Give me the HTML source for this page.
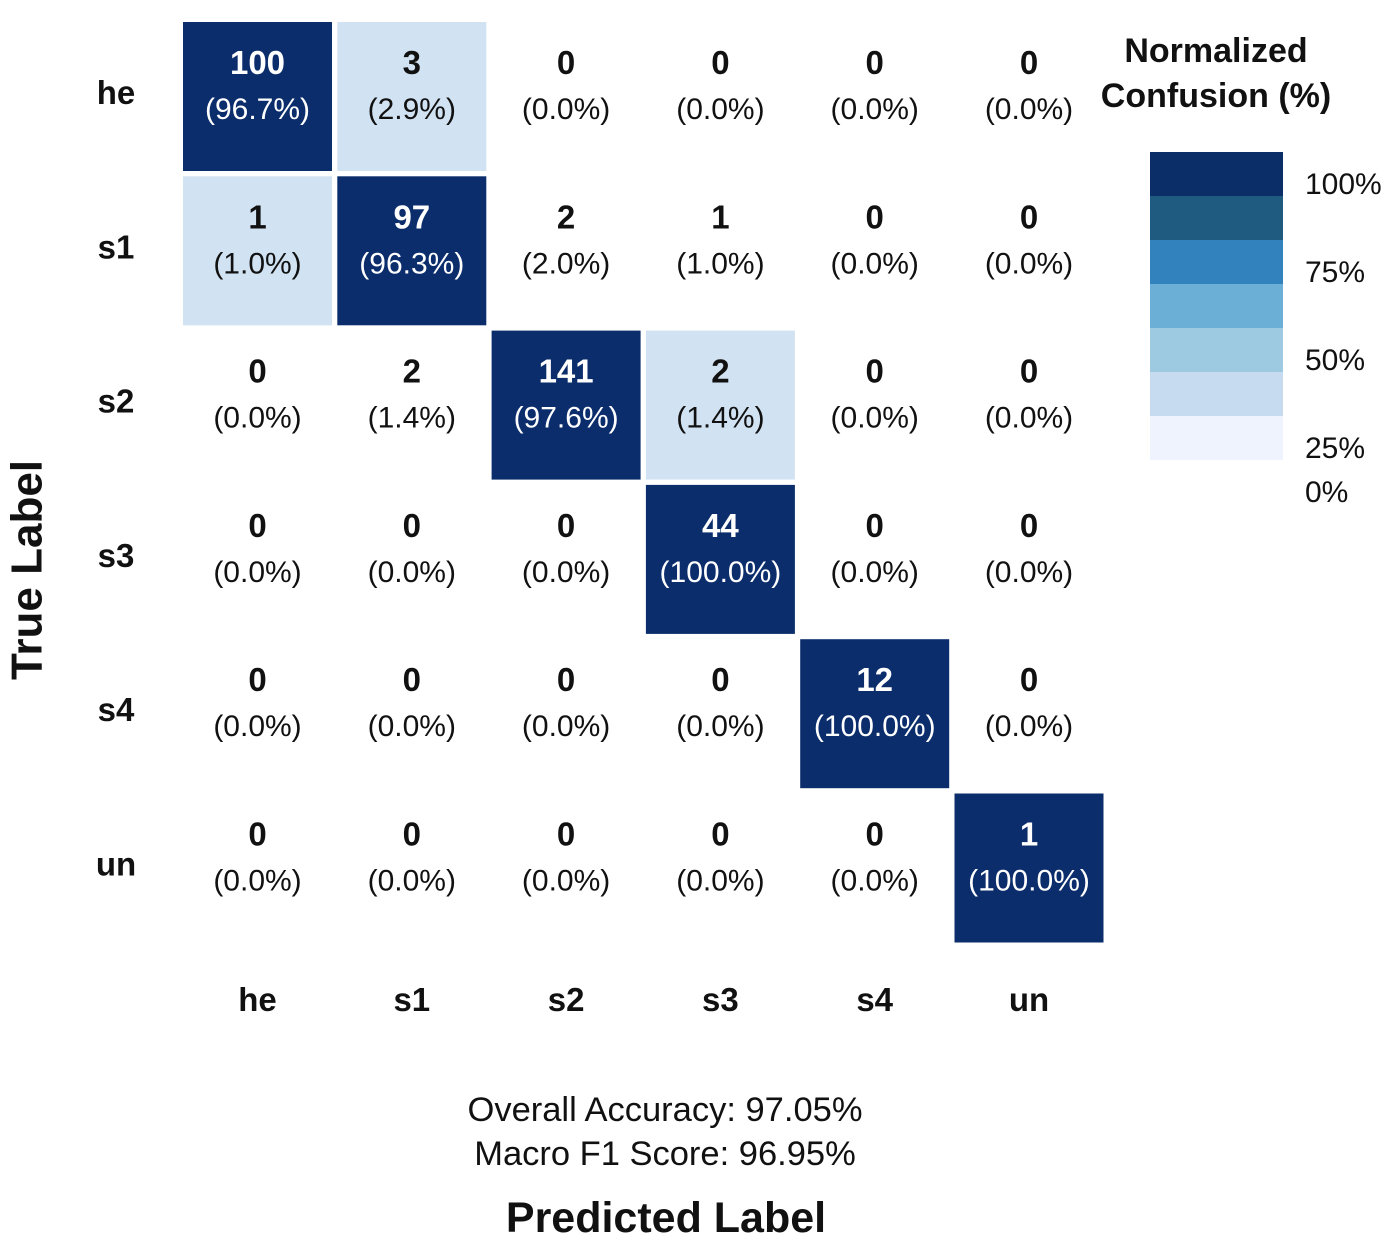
<!DOCTYPE html>
<html><head><meta charset="utf-8">
<style>
html,body{margin:0;padding:0;background:#fff;}
svg{display:block;font-family:"Liberation Sans",Arial,sans-serif;}
</style></head>
<body>
<svg id="chart" width="1391" height="1236" viewBox="0 0 1391 1236">
<g id="cells"></g>
<g id="labels"></g>
<g id="legend"></g>
<text x="27" y="570" transform="rotate(-90 27 570)" text-anchor="middle" dominant-baseline="central" font-size="44" font-weight="bold" fill="#111">True Label</text>
<text x="666" y="1232" text-anchor="middle" font-size="43" font-weight="bold" fill="#111">Predicted Label</text>
<text x="665" y="1121" text-anchor="middle" font-size="34.5" fill="#111">Overall Accuracy: 97.05%</text>
<text x="665" y="1165" text-anchor="middle" font-size="34.5" fill="#111">Macro F1 Score: 96.95%</text>
</svg>
<script>
const categories = ["he","s1","s2","s3","s4","un"];
const counts = [
 [100,3,0,0,0,0],
 [1,97,2,1,0,0],
 [0,2,141,2,0,0],
 [0,0,0,44,0,0],
 [0,0,0,0,12,0],
 [0,0,0,0,0,1]
];
const percents = [
 [96.7,2.9,0.0,0.0,0.0,0.0],
 [1.0,96.3,2.0,1.0,0.0,0.0],
 [0.0,1.4,97.6,1.4,0.0,0.0],
 [0.0,0.0,0.0,100.0,0.0,0.0],
 [0.0,0.0,0.0,0.0,100.0,0.0],
 [0.0,0.0,0.0,0.0,0.0,100.0]
];
const shaded = [
 [1,1,0,0,0,0],
 [1,1,0,0,0,0],
 [0,0,1,1,0,0],
 [0,0,0,1,0,0],
 [0,0,0,0,1,0],
 [0,0,0,0,0,1]
];
const legendTicks = ["100%","75%","50%","25%","0%"];
const legendColors = ["#0b2d68","#1f5a80","#3182bd","#6baed6","#9ecae1","#c6dbef","#eef3fd"];

const NS="http://www.w3.org/2000/svg";
const x0=183, y0=22, pitch=154.3, cw=149;
const xPos=i=>x0+i*pitch;
const yPos=j=>y0+j*pitch;
function mk(tag,attrs,parent,txt){const e=document.createElementNS(NS,tag);for(const k in attrs)e.setAttribute(k,attrs[k]);if(txt!==undefined)e.textContent=txt;parent.appendChild(e);return e;}
function color(p,s){ if(!s) return "#ffffff"; if(p>=50) return "#0b2d6b"; return "#d1e2f2"; }
const cells=document.getElementById('cells');
counts.forEach((row,r)=>row.forEach((v,c)=>{
  const p=percents[r][c];
  const rect=mk('rect',{x:xPos(c),y:yPos(r),width:cw,height:cw,fill:color(p,shaded[r][c])},cells);
  
  
  const tc=(p>=50&&shaded[r][c])?"#fff":"#111";
  const cx=xPos(c)+cw/2;
  const t1=mk('text',{x:cx,y:yPos(r)+52,'text-anchor':'middle','font-size':33,'font-weight':'bold',fill:tc},cells,String(v));
  
  
  const t2=mk('text',{x:cx,y:yPos(r)+97,'text-anchor':'middle','font-size':30,fill:tc},cells,'('+p.toFixed(1)+'%)');
  
  
}));
const labels=document.getElementById('labels');
categories.forEach((c,i)=>{
  const a=mk('text',{x:116,y:yPos(i)+82,'text-anchor':'middle','font-size':33,'font-weight':'bold',fill:'#111'},labels,c);
  
  
  const b=mk('text',{x:xPos(i)+cw/2,y:1011,'text-anchor':'middle','font-size':33,'font-weight':'bold',fill:'#111'},labels,c);
  
  
});
const lg=document.getElementById('legend');
const t=mk('text',{x:1216,y:62,'text-anchor':'middle','font-size':34,'font-weight':'bold',fill:'#111'},lg,'Normalized');


const t2=mk('text',{x:1216,y:107,'text-anchor':'middle','font-size':34,'font-weight':'bold',fill:'#111'},lg,'Confusion (%)');


const bh=44;
legendColors.forEach((col,i)=>{
  const r=mk('rect',{x:1150,y:152+i*bh,width:133,height:bh,fill:col},lg);
  
  
});
legendTicks.forEach((s,i)=>{
  const y = i<4 ? 183+i*88 : 491;
  const e=mk('text',{x:1305,y:y+11,'font-size':30,fill:'#111'},lg,s);
  
  
});
</script>
</body></html>
